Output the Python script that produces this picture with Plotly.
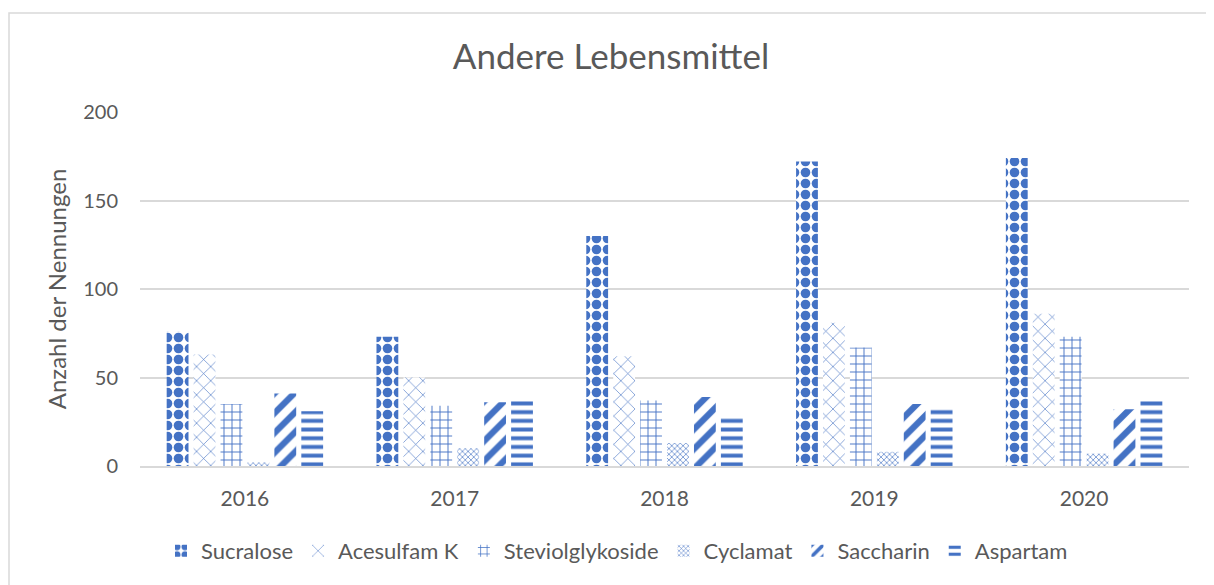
import plotly.graph_objects as go

years = ["2016", "2017", "2018", "2019", "2020"]
sucralose = [76, 73, 130, 172, 174]
acesulfam = [63, 50, 62, 81, 86]
steviol = [35, 34, 37, 67, 73]
cyclamat = [2, 10, 13, 8, 7]
saccharin = [41, 36, 39, 35, 32]
aspartam = [31, 37, 28, 33, 38]

series_names = ["Sucralose", "Acesulfam K", "Steviolglykoside", "Cyclamat", "Saccharin", "Aspartam"]
series_values = [sucralose, acesulfam, steviol, cyclamat, saccharin, aspartam]

BLUE = "#4472C4"
patterns = [
    dict(shape=".", size=11, solidity=0.6, fgcolor=BLUE, bgcolor="white", fillmode="replace"),
    dict(shape="x", size=10, solidity=0.12, fgcolor=BLUE, bgcolor="white", fillmode="replace"),
    dict(shape="+", size=8, solidity=0.22, fgcolor=BLUE, bgcolor="white", fillmode="replace"),
    dict(shape="x", size=4, solidity=0.3, fgcolor=BLUE, bgcolor="white", fillmode="replace"),
    dict(shape="/", size=14, solidity=0.45, fgcolor=BLUE, bgcolor="white", fillmode="replace"),
    dict(shape="-", size=8.7, solidity=0.45, fgcolor=BLUE, bgcolor="white", fillmode="replace"),
]

FONT = "Lato, 'Open Sans', sans-serif"
TXT = "#595959"

fig = go.Figure()
for name, vals, pat in zip(series_names, series_values, patterns):
    fig.add_trace(go.Bar(
        name=name, x=years, y=vals,
        marker=dict(color="white", line=dict(width=0), pattern=pat),
    ))

fig.update_layout(
    width=1206, height=577,
    margin=dict(l=132, r=25, t=104, b=119),
    paper_bgcolor="white", plot_bgcolor="white",
    barmode="group", bargap=0.23, bargroupgap=0.19,
    font=dict(family=FONT, color=TXT, size=20),
    title=dict(text="Andere Lebensmittel", x=0.5, xanchor="center", y=(577 - 49) / 577, yanchor="middle",
               font=dict(size=35, color=TXT, family=FONT)),
    showlegend=True,
    legend=dict(orientation="h", x=(617 - 140) / 1049, xanchor="center", y=-0.24, yanchor="middle",
                font=dict(size=22, color=TXT), itemwidth=30, traceorder="normal"),
    xaxis=dict(showgrid=False, showline=True, linecolor="#d9d9d9", linewidth=1.5,
               ticks="", tickfont=dict(size=21, color=TXT), ticklabelstandoff=13),
    yaxis=dict(range=[0, 200], dtick=50, showgrid=True, gridcolor="#d9d9d9", gridwidth=1.5,
               zeroline=False, showline=False, ticks="", tickfont=dict(size=20, color=TXT),
               ticklabelstandoff=21,
               title=dict(text="Anzahl der Nennungen", font=dict(size=24, color=TXT), standoff=9)),
)

# chart outer border (Excel chart area frame)
fig.add_shape(type="rect", xref="paper", yref="paper",
              x0=(9 - 140) / 1049, x1=1.2, y0=-0.6, y1=1 + (112 - 13) / 354,
              line=dict(color="#d9d9d9", width=1.5), fillcolor="rgba(0,0,0,0)", layer="below")

fig.write_html("out.html")
